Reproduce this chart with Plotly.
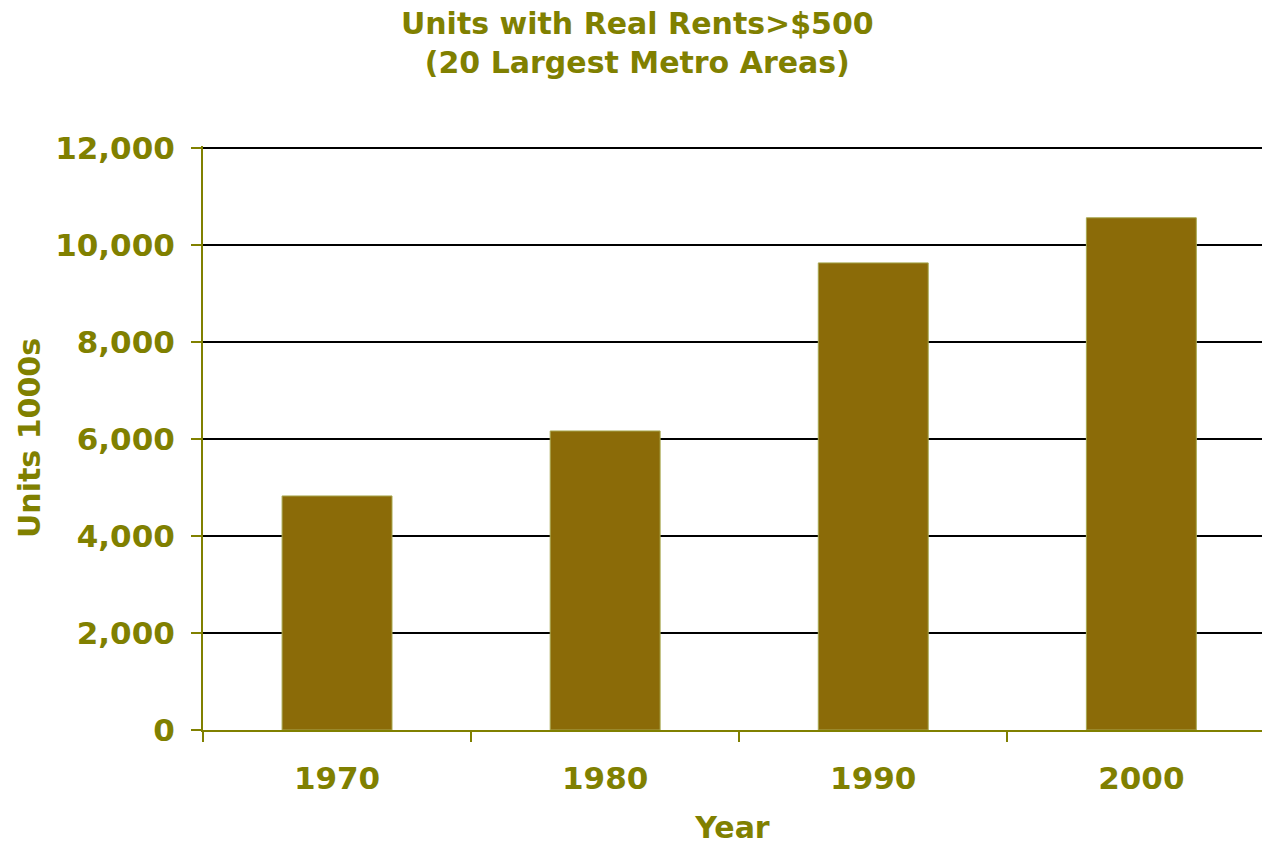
import plotly.graph_objects as go

years = ["1970", "1980", "1990", "2000"]
units = [4825, 6165, 9630, 10560]
y_ticks = [0, 2000, 4000, 6000, 8000, 10000, 12000]
y_tick_labels = ["0", "2,000", "4,000", "6,000", "8,000", "10,000", "12,000"]

OLIVE = "#808000"
BAR = "#8B6B08"
FONT = "DejaVu Sans"

fig = go.Figure(go.Bar(
    x=years, y=units, width=0.41,
    marker=dict(color=BAR, line=dict(color="#a8a850", width=1)),
))

fig.update_layout(
    width=1262, height=845,
    margin=dict(l=203, r=0, t=146, b=115),
    paper_bgcolor="white", plot_bgcolor="white",
    showlegend=False,
    font=dict(family=FONT, color=OLIVE),
    title=dict(
        text="<b>Units with Real Rents>$500<br>(20 Largest Metro Areas)</b>",
        x=0.505, xanchor="center", xref="container",
        y=1 - 34/845, yanchor="middle", yref="container",
        font=dict(family=FONT, size=30, color=OLIVE),
    ),
    xaxis=dict(
        type="category", range=[-0.5, 3.45],
        tickson="boundaries", ticks="outside", ticklen=10, tickwidth=2, tickcolor=OLIVE,
        showline=True, linecolor=OLIVE, linewidth=2,
        showgrid=False, zeroline=False,
        tickfont=dict(family=FONT, size=31, color=OLIVE, weight="bold"),
        ticklabelstandoff=20,
        title=dict(text="<b>Year</b>", font=dict(family=FONT, size=30, color=OLIVE), standoff=24),
    ),
    yaxis=dict(
        range=[0, 12040], tickvals=y_ticks, ticktext=y_tick_labels,
        ticks="outside", ticklen=10, tickwidth=2, tickcolor=OLIVE,
        showline=True, linecolor=OLIVE, linewidth=2,
        showgrid=True, gridcolor="black", gridwidth=2, zeroline=False,
        tickfont=dict(family=FONT, size=31, color=OLIVE, weight="bold"),
        ticklabelstandoff=10,
        title=dict(text="<b>Units 1000s</b>", font=dict(family=FONT, size=30, color=OLIVE), standoff=6),
    ),
)

fig.write_html("out.html", config={"displayModeBar": False},
               post_script="document.body.style.margin='0';")
